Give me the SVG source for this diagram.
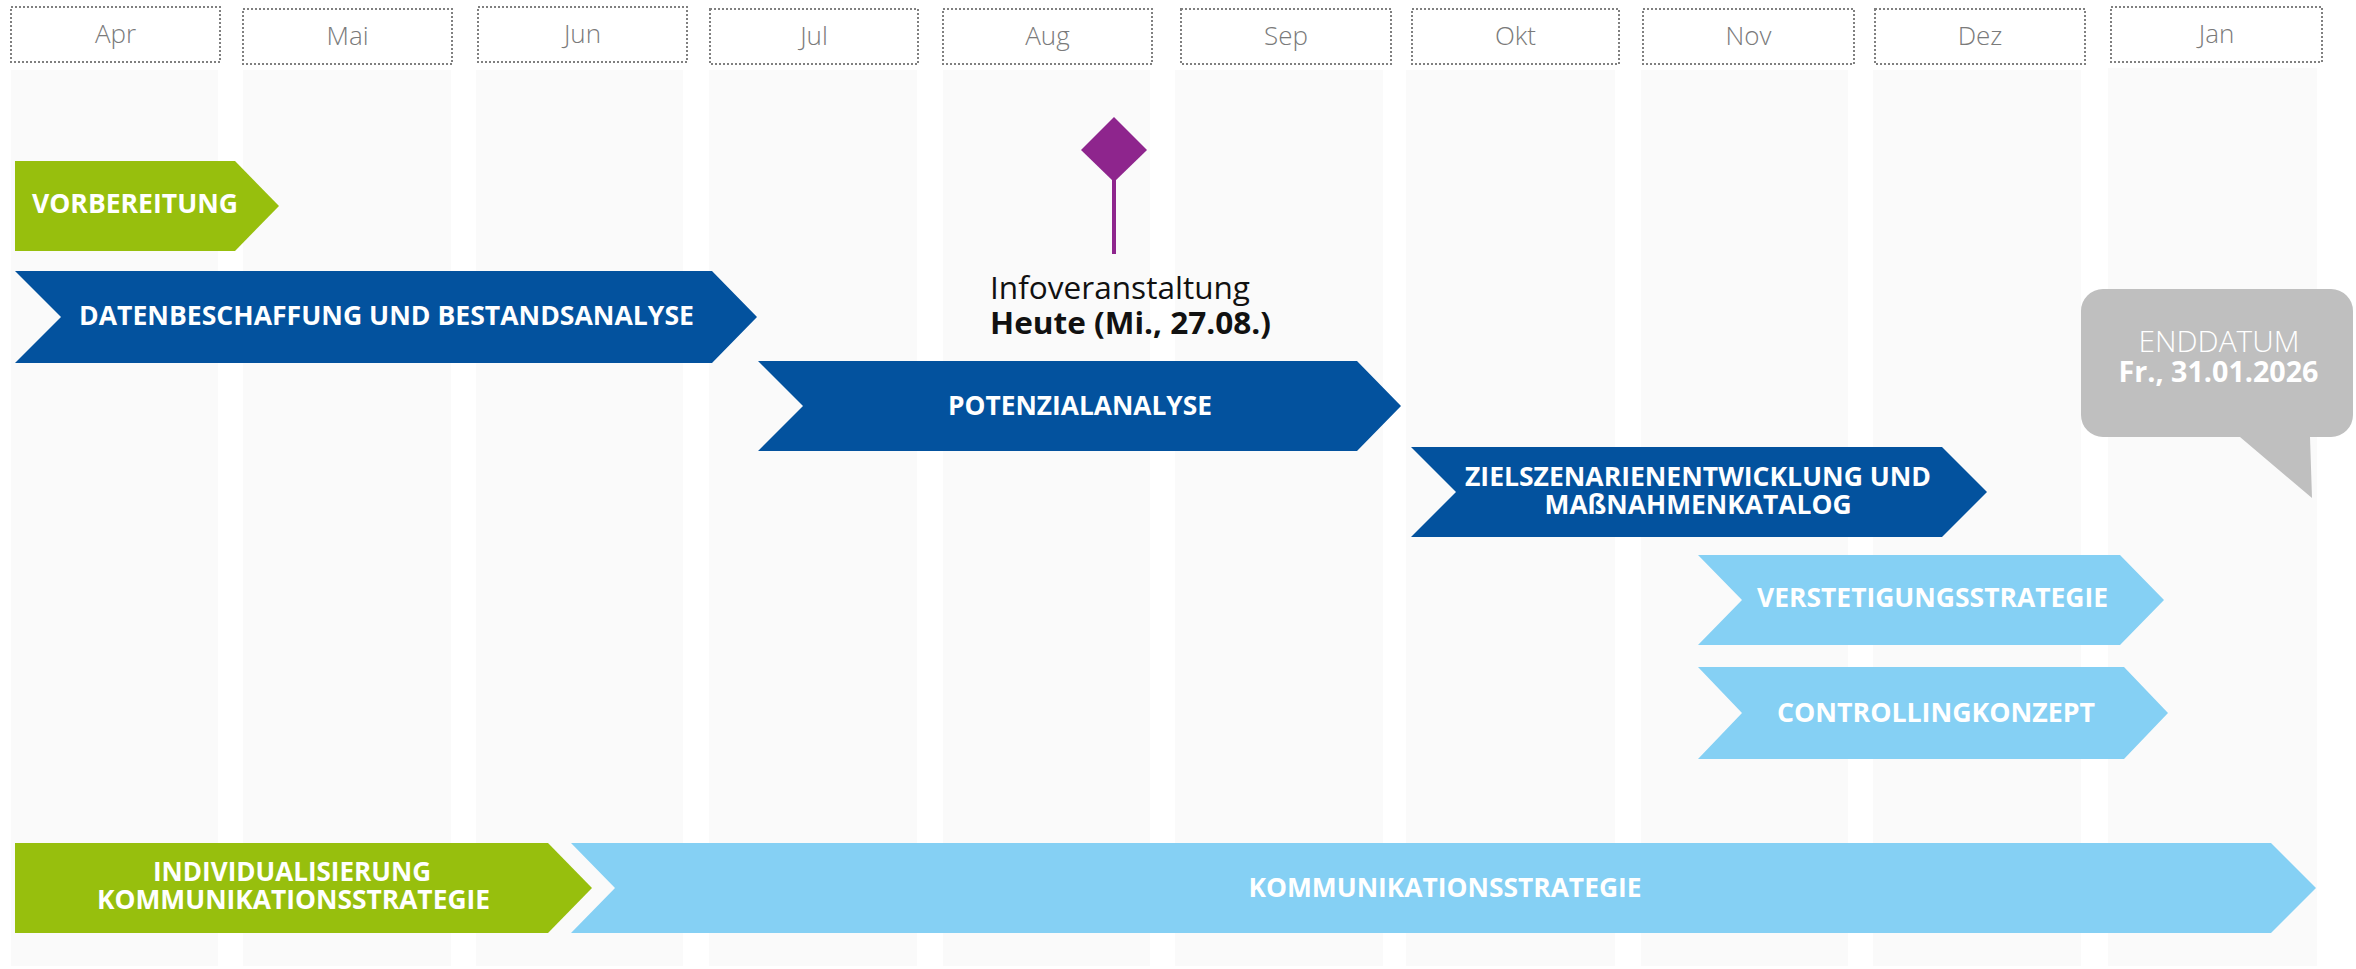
<svg xmlns="http://www.w3.org/2000/svg" width="2356" height="969" viewBox="0 0 2356 969">
<style>
.col{fill:#fafafa}
.hdr{fill:none;stroke:#808080;stroke-width:2;stroke-dasharray:2 2}
.mon{font-family:"Open Sans","Liberation Sans",sans-serif;font-size:26px;font-weight:300;fill:#7a7a7a;text-anchor:middle}
.lbl{font-family:"Open Sans","Liberation Sans",sans-serif;font-size:26px;font-weight:700;fill:#ffffff;text-anchor:middle}
.green{fill:#97bf0d}
.dark{fill:#03529e}
.light{fill:#85d0f4}
.ms{font-family:"Open Sans","Liberation Sans",sans-serif;font-size:31px;fill:#111111}
</style>
<rect x="0" y="0" width="2356" height="969" fill="#ffffff"/>
<g id="columns">
<rect class="col" x="11" y="70" width="207" height="896"/>
<rect class="col" x="243" y="70" width="208" height="896"/>
<rect class="col" x="476" y="70" width="207" height="896"/>
<rect class="col" x="709" y="70" width="208" height="896"/>
<rect class="col" x="943" y="70" width="207" height="896"/>
<rect class="col" x="1175" y="70" width="208" height="896"/>
<rect class="col" x="1406" y="70" width="209" height="896"/>
<rect class="col" x="1641" y="70" width="207" height="896"/>
<rect class="col" x="1873" y="70" width="208" height="896"/>
<rect class="col" x="2108" y="68" width="209" height="898"/>
</g>
<g id="headers">
<g id="m-apr"><rect class="hdr" x="11" y="7" width="209" height="55"/><text class="mon" x="115.5" y="43">Apr</text></g>
<g id="m-mai"><rect class="hdr" x="243" y="9" width="209" height="55"/><text class="mon" x="347.5" y="45">Mai</text></g>
<g id="m-jun"><rect class="hdr" x="478" y="7" width="209" height="55"/><text class="mon" x="582.5" y="43">Jun</text></g>
<g id="m-jul"><rect class="hdr" x="710" y="9" width="208" height="55"/><text class="mon" x="814" y="45">Jul</text></g>
<g id="m-aug"><rect class="hdr" x="943" y="9" width="209" height="55"/><text class="mon" x="1047.5" y="45">Aug</text></g>
<g id="m-sep"><rect class="hdr" x="1181" y="9" width="210" height="55"/><text class="mon" x="1286" y="45">Sep</text></g>
<g id="m-okt"><rect class="hdr" x="1412" y="9" width="207" height="55"/><text class="mon" x="1515.5" y="45">Okt</text></g>
<g id="m-nov"><rect class="hdr" x="1643" y="9" width="211" height="55"/><text class="mon" x="1748.5" y="45">Nov</text></g>
<g id="m-dez"><rect class="hdr" x="1875" y="9" width="210" height="55"/><text class="mon" x="1980" y="45">Dez</text></g>
<g id="m-jan"><rect class="hdr" x="2111" y="7" width="211" height="55"/><text class="mon" x="2216.5" y="43">Jan</text></g>
</g>
<g id="connectors">
<line x1="1114" y1="180" x2="1114" y2="254" stroke="#8e258d" stroke-width="4"/>
</g>
<g id="milestone">
<polygon points="1114,117 1147,150 1114,182 1081,150" fill="#8e258d"/>
<text class="ms" x="990" y="299" textLength="260" lengthAdjust="spacingAndGlyphs">Infoveranstaltung</text>
<text class="ms" x="990" y="334" font-weight="700" textLength="281" lengthAdjust="spacingAndGlyphs">Heute (Mi., 27.08.)</text>
</g>
<g id="vorbereitung">
<polygon class="green" points="15,161 235,161 279,206 235,251 15,251"/>
<text class="lbl" x="135" y="213" textLength="206" lengthAdjust="spacingAndGlyphs">VORBEREITUNG</text>
</g>
<g id="datenbeschaffung">
<polygon class="dark" points="15,271 712,271 757,317 712,363 15,363 61,317"/>
<text class="lbl" x="386.5" y="325" textLength="615" lengthAdjust="spacingAndGlyphs">DATENBESCHAFFUNG UND BESTANDSANALYSE</text>
</g>
<g id="potenzialanalyse">
<polygon class="dark" points="758,361 1357,361 1401,406 1357,451 758,451 803,406"/>
<text class="lbl" x="1080" y="415" textLength="264" lengthAdjust="spacingAndGlyphs">POTENZIALANALYSE</text>
</g>
<g id="zielszenarien">
<polygon class="dark" points="1411,447 1942,447 1987,492 1942,537 1411,537 1456,492"/>
<text class="lbl" x="1698" y="486" textLength="466" lengthAdjust="spacingAndGlyphs">ZIELSZENARIENENTWICKLUNG UND</text>
<text class="lbl" x="1698" y="514" textLength="307" lengthAdjust="spacingAndGlyphs">MAßNAHMENKATALOG</text>
</g>
<g id="verstetigung">
<polygon class="light" points="1698,555 2120,555 2164,600 2120,645 1698,645 1742,600"/>
<text class="lbl" x="1932.5" y="607" textLength="351" lengthAdjust="spacingAndGlyphs">VERSTETIGUNGSSTRATEGIE</text>
</g>
<g id="controlling">
<polygon class="light" points="1698,667 2124,667 2168,713 2124,759 1698,759 1742,713"/>
<text class="lbl" x="1936" y="722" textLength="318" lengthAdjust="spacingAndGlyphs">CONTROLLINGKONZEPT</text>
</g>
<g id="individualisierung">
<polygon class="green" points="15,843 548,843 592,888 548,933 15,933"/>
<text class="lbl" x="292" y="881" textLength="278" lengthAdjust="spacingAndGlyphs">INDIVIDUALISIERUNG</text>
<text class="lbl" x="293.5" y="909" textLength="393" lengthAdjust="spacingAndGlyphs">KOMMUNIKATIONSSTRATEGIE</text>
</g>
<g id="kommunikationsstrategie">
<polygon class="light" points="571,843 2271,843 2316,888 2271,933 571,933 615,888"/>
<text class="lbl" x="1445" y="897" textLength="393" lengthAdjust="spacingAndGlyphs">KOMMUNIKATIONSSTRATEGIE</text>
</g>
<g id="enddatum">
<path d="M 2103,289 H 2331 A 22 22 0 0 1 2353,311 V 415 A 22 22 0 0 1 2331,437 H 2310 L 2312,498 L 2240,437 H 2103 A 22 22 0 0 1 2081,415 V 311 A 22 22 0 0 1 2103,289 Z" fill="#bfbfbf"/>
<text x="2219" y="352" font-family="'Open Sans','Liberation Sans',sans-serif" font-size="29" font-weight="300" fill="#ffffff" text-anchor="middle" textLength="161" lengthAdjust="spacingAndGlyphs">ENDDATUM</text>
<text x="2218.5" y="382" font-family="'Open Sans','Liberation Sans',sans-serif" font-size="28" font-weight="700" fill="#ffffff" text-anchor="middle" textLength="200" lengthAdjust="spacingAndGlyphs">Fr., 31.01.2026</text>
</g>
</svg>
